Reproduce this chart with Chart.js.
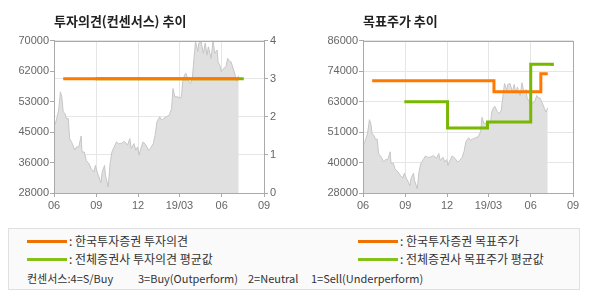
<!DOCTYPE html>
<html>
<head>
<meta charset="utf-8">
<script src="https://cdn.jsdelivr.net/npm/chart.js@4.4.1/dist/chart.umd.min.js"></script>
<style>
  body { margin: 0; background: #fff; width: 590px; height: 300px; overflow: hidden; position: relative; font-family: "Noto Sans CJK KR", sans-serif; }
  canvas { position: absolute; top: 0; }
  #legend { position: absolute; left: 8px; top: 228px; width: 570px; height: 60px; border: 1px solid #e0e0e0; background: #fafafa; }
  .sw { position: absolute; height: 3px; width: 40px; }
  .lt { position: absolute; font-size: 12px; color: #333; line-height: 14px; white-space: pre; }
  .ct { position: absolute; font-size: 11px; color: #333; line-height: 13px; white-space: pre; top: 43px; }
</style>
</head>
<body>
<canvas id="opinionChart" width="295" height="215" style="left:0"></canvas>
<canvas id="targetChart" width="295" height="215" style="left:295px"></canvas>
<div id="legend">
  <div class="sw" style="left:18px;top:11px;background:#f07000"></div>
  <div class="lt" style="left:60px;top:5px">: 한국투자증권 투자의견</div>
  <div class="sw" style="left:18px;top:29px;background:#86c11a"></div>
  <div class="lt" style="left:60px;top:23px">: 전체증권사 투자의견 평균값</div>
  <div class="sw" style="left:349px;top:11px;background:#f07000"></div>
  <div class="lt" style="left:391px;top:5px">: 한국투자증권 목표주가</div>
  <div class="sw" style="left:349px;top:29px;background:#86c11a"></div>
  <div class="lt" style="left:391px;top:23px">: 전체증권사 목표주가 평균값</div>
  <div class="ct" style="left:18px">컨센서스:4=S/Buy</div>
  <div class="ct" style="left:129px">3=Buy(Outperform)</div>
  <div class="ct" style="left:239px">2=Neutral</div>
  <div class="ct" style="left:302px">1=Sell(Underperform)</div>
</div>
<script>
// x axis: month ticks
const tickDates = ["2018-06-01", "2018-09-01", "2018-12-01", "2019-03-01", "2019-06-01", "2019-09-01"];
const tickLabels = ["06", "09", "12", "19/03", "06", "09"];

// share price
const priceDates = [
  "2018-06-01", "2018-06-05", "2018-06-08", "2018-06-11", "2018-06-15", "2018-06-18", "2018-06-21", "2018-06-25",
  "2018-06-28", "2018-07-02", "2018-07-05", "2018-07-11", "2018-07-16", "2018-07-20", "2018-07-25", "2018-07-30",
  "2018-08-01", "2018-08-06", "2018-08-10", "2018-08-16", "2018-08-21", "2018-08-27", "2018-08-30", "2018-09-04",
  "2018-09-07", "2018-09-11", "2018-09-14", "2018-09-19", "2018-09-21", "2018-09-27", "2018-10-01", "2018-10-05",
  "2018-10-10", "2018-10-15", "2018-10-19", "2018-10-25", "2018-10-30", "2018-11-02", "2018-11-08", "2018-11-13",
  "2018-11-16", "2018-11-22", "2018-11-26", "2018-11-30", "2018-12-03", "2018-12-07", "2018-12-12", "2018-12-18",
  "2018-12-24", "2018-12-28", "2019-01-03", "2019-01-07", "2019-01-11", "2019-01-17", "2019-01-21", "2019-01-25",
  "2019-02-01", "2019-02-07", "2019-02-12", "2019-02-15", "2019-02-19", "2019-02-25", "2019-03-04", "2019-03-06",
  "2019-03-08", "2019-03-12", "2019-03-15", "2019-03-20", "2019-03-25", "2019-03-29", "2019-04-02", "2019-04-05",
  "2019-04-10", "2019-04-12", "2019-04-17", "2019-04-22", "2019-04-26", "2019-04-30", "2019-05-03", "2019-05-09",
  "2019-05-13", "2019-05-17", "2019-05-22", "2019-05-24", "2019-05-29", "2019-05-31", "2019-06-05", "2019-06-10",
  "2019-06-14", "2019-06-18", "2019-06-21", "2019-06-27", "2019-07-01", "2019-07-04", "2019-07-08"
];
const priceValues = [
  46200, 47600, 49000, 50800, 55900, 54500, 50400, 49900,
  48500, 48500, 43000, 41600, 39800, 40700, 40700, 43700,
  39300, 39300, 37000, 36100, 34700, 33800, 35600, 33300,
  32400, 30800, 33800, 35600, 32900, 29600, 36100, 39300,
  40700, 42100, 41600, 41600, 42100, 42100, 41200, 43000,
  40300, 41600, 39800, 40700, 38400, 40300, 42100, 41200,
  39800, 40300, 41600, 43900, 47600, 49000, 48100, 48500,
  49000, 49500, 51300, 56800, 54500, 54500, 54100, 55400,
  58700, 60500, 61000, 59100, 58200, 59600, 65600, 69700,
  67000, 69300, 69700, 66500, 69300, 66000, 68300, 65100,
  70000, 66500, 67400, 64200, 62800, 61400, 62300, 62800,
  65100, 64200, 64200, 61900, 60100, 58800, 60300
];

// investment opinion (4 = strong buy ... 1 = sell)
const opinionDates = ["2018-06-21", "2019-07-08"];
const opinionValues = [3, 3];
const avgOpinionDates = ["2018-08-30", "2019-07-19"];
const avgOpinionValues = [3, 3];

// target price
const targetDates = ["2018-06-21", "2019-03-13", "2019-06-23", "2019-07-08"];
const targetValues = [70700, 66500, 73400, 73400];
const avgTargetDates = ["2018-08-30", "2018-12-02", "2019-02-27", "2019-06-01", "2019-07-18", "2019-07-18"];
const avgTargetValues = [62700, 52700, 55000, 77000, 77000, 76300];

// axis tick labels
const leftPriceLabels = ["28000", "36000", "45000", "53000", "62000", "70000"];
const rightPriceLabels = ["28000", "40000", "51000", "63000", "74000", "86000"];
const opinionLabels = ["0", "1", "2", "3", "4"];

function dayOf(s) {
    let p = s.split("-").map(Number);
    let base = tickDates[0].split("-").map(Number);
    return (Date.UTC(p[0], p[1] - 1, p[2]) - Date.UTC(base[0], base[1] - 1, base[2])) / 86400000;
}

function toPoints(dates, values) {
    return dates.map((d, i) => ({ x: dayOf(d), y: values[i] }));
}

const tickDays = tickDates.map(dayOf);
const axisColor = "#aaaaaa";
const gridColor = "#e6e6e6";
const tickFont = { family: "Liberation Sans", size: 11 };
const orange = "#ff7800";
const green = "#78b800";

const frameBox = {
    id: "frameBox",
    afterDraw(chart) {
        let a = chart.chartArea;
        let ctx = chart.ctx;
        ctx.save();
        ctx.strokeStyle = axisColor;
        ctx.lineWidth = 1;
        ctx.strokeRect(Math.round(a.left) + 0.5, Math.round(a.top) + 0.5, Math.round(a.right - a.left), Math.round(a.bottom - a.top));
        ctx.restore();
    }
};

function xAxis() {
    return {
        type: "linear",
        min: tickDays[0],
        max: tickDays[tickDays.length - 1],
        afterBuildTicks: (axis) => { axis.ticks = tickDays.map(v => ({ value: v })); },
        afterFit: (scale) => { scale.height = 22; },
        ticks: {
            autoSkip: false,
            maxRotation: 0,
            padding: 2,
            color: "#666",
            font: tickFont,
            callback: (value, index) => tickLabels[index]
        },
        grid: { color: gridColor, tickColor: axisColor, tickLength: 4 },
        border: { color: axisColor }
    };
}

function priceArea() {
    return {
        data: toPoints(priceDates, priceValues),
        borderColor: "#c6c6c6",
        borderWidth: 1,
        backgroundColor: "#e0e0e0",
        fill: "start",
        pointRadius: 0,
        tension: 0,
        yAxisID: "y",
        order: 3
    };
}

function stepLine(points, color, axisId, order) {
    return {
        data: points,
        borderColor: color,
        borderWidth: 3,
        pointRadius: 0,
        fill: false,
        stepped: "before",
        yAxisID: axisId,
        order: order
    };
}

function titleOpts(text) {
    return {
        display: true,
        text: text,
        align: "start",
        fullSize: false,
        color: "#222",
        font: { family: "Noto Sans CJK KR", size: 13, weight: "bold" },
        padding: { top: 13, bottom: 12 }
    };
}

new Chart(document.getElementById("opinionChart"), {
    type: "line",
    data: {
        datasets: [
            stepLine(toPoints(opinionDates, opinionValues), orange, "y1", 0),
            stepLine(toPoints(avgOpinionDates, avgOpinionValues), green, "y1", 1),
            priceArea()
        ]
    },
    options: {
        responsive: false,
        animation: false,
        devicePixelRatio: 1,
        layout: { padding: 0 },
        plugins: { legend: { display: false }, tooltip: { enabled: false }, title: titleOpts("투자의견(컨센서스) 추이") },
        scales: {
            x: xAxis(),
            y: {
                position: "left",
                min: 28000,
                max: 70000,
                afterFit: (scale) => { scale.width = 54; },
                ticks: { stepSize: 8400, padding: 1, color: "#666", font: tickFont, callback: (v, i) => leftPriceLabels[i] },
                grid: { drawOnChartArea: false, tickColor: axisColor, tickLength: 4 },
                border: { color: axisColor }
            },
            y1: {
                position: "right",
                min: 0,
                max: 4,
                afterFit: (scale) => { scale.width = 31; },
                ticks: { stepSize: 1, padding: 2, color: "#666", font: tickFont, callback: (v, i) => opinionLabels[i] },
                grid: { color: gridColor, tickColor: axisColor, tickLength: 4 },
                border: { color: axisColor }
            }
        }
    },
    plugins: [frameBox]
});

new Chart(document.getElementById("targetChart"), {
    type: "line",
    data: {
        datasets: [
            stepLine(toPoints(targetDates, targetValues), orange, "y", 1),
            stepLine(toPoints(avgTargetDates, avgTargetValues), green, "y", 0),
            priceArea()
        ]
    },
    options: {
        responsive: false,
        animation: false,
        devicePixelRatio: 1,
        layout: { padding: { right: 17 } },
        plugins: { legend: { display: false }, tooltip: { enabled: false }, title: titleOpts("목표주가 추이") },
        scales: {
            x: xAxis(),
            y: {
                position: "left",
                min: 28000,
                max: 86000,
                afterFit: (scale) => { scale.width = 68; },
                ticks: { stepSize: 11600, padding: 1, color: "#666", font: tickFont, callback: (v, i) => rightPriceLabels[i] },
                grid: { color: gridColor, tickColor: axisColor, tickLength: 4 },
                border: { color: axisColor }
            }
        }
    },
    plugins: [frameBox]
});
</script>
</body>
</html>
